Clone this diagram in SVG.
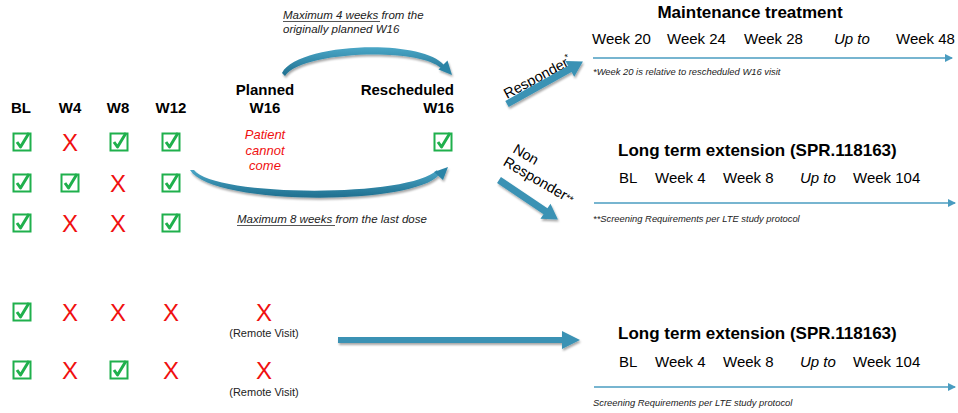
<svg xmlns="http://www.w3.org/2000/svg" xmlns:xlink="http://www.w3.org/1999/xlink" width="958" height="413" viewBox="0 0 958 413">
<defs>
<style>
text{font-family:"Liberation Sans",Arial,sans-serif;fill:#000}
.hd{font-weight:bold;font-size:15px;text-anchor:middle}
.x{font-size:24px;fill:#f01010;text-anchor:middle}
.red{font-size:13px;font-style:italic;fill:#f01010;text-anchor:middle}
.lbl{font-size:11.5px;font-style:italic;fill:#222}
.ttl{font-weight:bold;font-size:17px}
.wk{font-size:15px}
.it{font-style:italic}
.note{font-size:9.4px;font-style:italic;fill:#222}
.rv{font-size:11px;text-anchor:middle;fill:#222}
.rot{font-size:14.5px}
.tl{stroke:#4a9cc0;stroke-width:1.5;fill:none}
.big{fill:#3a92b4}
.arc{fill:url(#ag)}
.ul{stroke:#444;stroke-width:0.9}
</style>
<linearGradient id="ag" x1="0" y1="0" x2="0" y2="1">
<stop offset="0" stop-color="#4aa6c6"/>
<stop offset="1" stop-color="#1f6f8f"/>
</linearGradient>
<filter id="sh" x="-20%" y="-20%" width="140%" height="160%">
<feGaussianBlur in="SourceAlpha" stdDeviation="1.2"/>
<feOffset dx="1" dy="2" result="b"/>
<feComponentTransfer><feFuncA type="linear" slope="0.35"/></feComponentTransfer>
<feMerge><feMergeNode/><feMergeNode in="SourceGraphic"/></feMerge>
</filter>
<marker id="ah" markerWidth="8" markerHeight="8" refX="7" refY="4" orient="auto" markerUnits="userSpaceOnUse">
<path d="M0,0 L8,4 L0,8 Z" fill="#4a9cc0"/>
</marker>
<g id="chk">
<rect x="-8.5" y="-8.5" width="17" height="17" fill="#fff" stroke="#1fb04c" stroke-width="2"/>
<path d="M-5,0 L-1.5,5 L7,-9" fill="none" stroke="#1fb04c" stroke-width="3" stroke-linejoin="round"/>
</g>
</defs>
<rect width="958" height="413" fill="#fff"/>

<g id="headers">
<text class="hd" x="21" y="113">BL</text>
<text class="hd" x="70" y="113">W4</text>
<text class="hd" x="118" y="113">W8</text>
<text class="hd" x="171" y="113">W12</text>
<text class="hd" x="265" y="95">Planned</text>
<text class="hd" x="265" y="113">W16</text>
<text class="hd" x="454" y="95" style="text-anchor:end">Rescheduled</text>
<text class="hd" x="454" y="113" style="text-anchor:end">W16</text>
</g>

<g id="row1">
<use xlink:href="#chk" x="22" y="142"/>
<text class="x" x="70" y="151">X</text>
<use xlink:href="#chk" x="119" y="142"/>
<use xlink:href="#chk" x="171" y="142"/>
<text class="red" x="265" y="139">Patient</text>
<text class="red" x="265" y="155">cannot</text>
<text class="red" x="265" y="170">come</text>
<use xlink:href="#chk" x="443" y="142"/>
</g>
<g id="row2">
<use xlink:href="#chk" x="22" y="183"/>
<use xlink:href="#chk" x="70" y="183"/>
<text class="x" x="118" y="192">X</text>
<use xlink:href="#chk" x="171" y="183"/>
</g>
<g id="row3">
<use xlink:href="#chk" x="22" y="223"/>
<text class="x" x="70" y="232">X</text>
<text class="x" x="118" y="232">X</text>
<use xlink:href="#chk" x="171" y="223"/>
</g>
<g id="row4">
<use xlink:href="#chk" x="22" y="312"/>
<text class="x" x="70" y="321">X</text>
<text class="x" x="118" y="321">X</text>
<text class="x" x="171" y="321">X</text>
<text class="x" x="264" y="321">X</text>
<text class="rv" x="264" y="337">(Remote Visit)</text>
</g>
<g id="row5">
<use xlink:href="#chk" x="22" y="370"/>
<text class="x" x="70" y="379">X</text>
<use xlink:href="#chk" x="119" y="370"/>
<text class="x" x="171" y="379">X</text>
<text class="x" x="264" y="379">X</text>
<text class="rv" x="264" y="396">(Remote Visit)</text>
</g>

<g id="labels">
<text class="lbl" x="283" y="19">Maximum 4 weeks from the</text>
<line class="ul" x1="283" y1="21.5" x2="380" y2="21.5"/>
<text class="lbl" x="283" y="33">originally planned W16</text>
<text class="lbl" x="237" y="223">Maximum 8 weeks from the last dose</text>
<line class="ul" x1="237" y1="225.5" x2="335" y2="225.5"/>
</g>

<g id="maintenance">
<text class="ttl" x="750" y="18" text-anchor="middle">Maintenance treatment</text>
<text class="wk" x="592" y="44">Week 20</text>
<text class="wk" x="667" y="44">Week 24</text>
<text class="wk" x="744" y="44">Week 28</text>
<text class="wk it" x="834" y="44">Up to</text>
<text class="wk" x="896" y="44">Week 48</text>
<text class="note" x="593" y="75">*Week 20 is relative to rescheduled W16 visit</text>
</g>

<g id="lte1">
<text class="ttl" x="618" y="156">Long term extension (SPR.118163)</text>
<text class="wk" x="619" y="183">BL</text>
<text class="wk" x="655" y="183">Week 4</text>
<text class="wk" x="723" y="183">Week 8</text>
<text class="wk it" x="800" y="183">Up to</text>
<text class="wk" x="853" y="183">Week 104</text>
<text class="note" x="593" y="222">**Screening Requirements per LTE study protocol</text>
</g>

<g id="lte2">
<text class="ttl" x="618" y="339">Long term extension (SPR.118163)</text>
<text class="wk" x="619" y="367">BL</text>
<text class="wk" x="655" y="367">Week 4</text>
<text class="wk" x="723" y="367">Week 8</text>
<text class="wk it" x="800" y="367">Up to</text>
<text class="wk" x="853" y="367">Week 104</text>
<text class="note" x="593" y="406">Screening Requirements per LTE study protocol</text>
</g>

<g id="responder-label">
<text class="rot" transform="translate(507,99) rotate(-28)">Responder<tspan font-size="9" dy="-6">*</tspan></text>
<text class="rot" transform="translate(512,152) rotate(30)">Non</text>
<text class="rot" transform="translate(512,152) rotate(30) translate(-2,16)">Responder<tspan font-size="10" dy="-1">**</tspan></text>
</g>

<g id="connectors">
<line class="tl" x1="593" y1="58" x2="952" y2="58" marker-end="url(#ah)"/>
<line class="tl" x1="594" y1="203" x2="955" y2="203" marker-end="url(#ah)"/>
<line class="tl" x1="594" y1="387" x2="955" y2="387" marker-end="url(#ah)"/>
<g filter="url(#sh)">
<path class="arc" d="M282,73 C298,43 420,38 444,65 L441,68 C418,47 301,51 285,76 Z"/>
<path fill="#2c84a6" d="M452,75 L438.5,69.5 L447.5,60.5 Z"/>
<path class="arc" d="M190,170 C212,206 412,206 439,175 L437,170 C410,198 214,197 194,170 Z"/>
<path fill="#2c84a6" d="M448,167 L443,180 L434,172 Z"/>
<g transform="translate(507,104) rotate(-29.2)"><path class="big" d="M0,-3.5 L72,-3.5 L72,-9 L87,0 L72,9 L72,3.5 L0,3.5 Z"/></g>
<g transform="translate(499,180) rotate(33.9)"><path class="big" d="M0,-3.5 L56,-3.5 L56,-9 L71,0 L56,9 L56,3.5 L0,3.5 Z"/></g>
<path class="big" d="M338,337 L562,337 L562,331 L580,340 L562,349 L562,343 L338,343 Z"/>
</g>
</g>
</svg>
